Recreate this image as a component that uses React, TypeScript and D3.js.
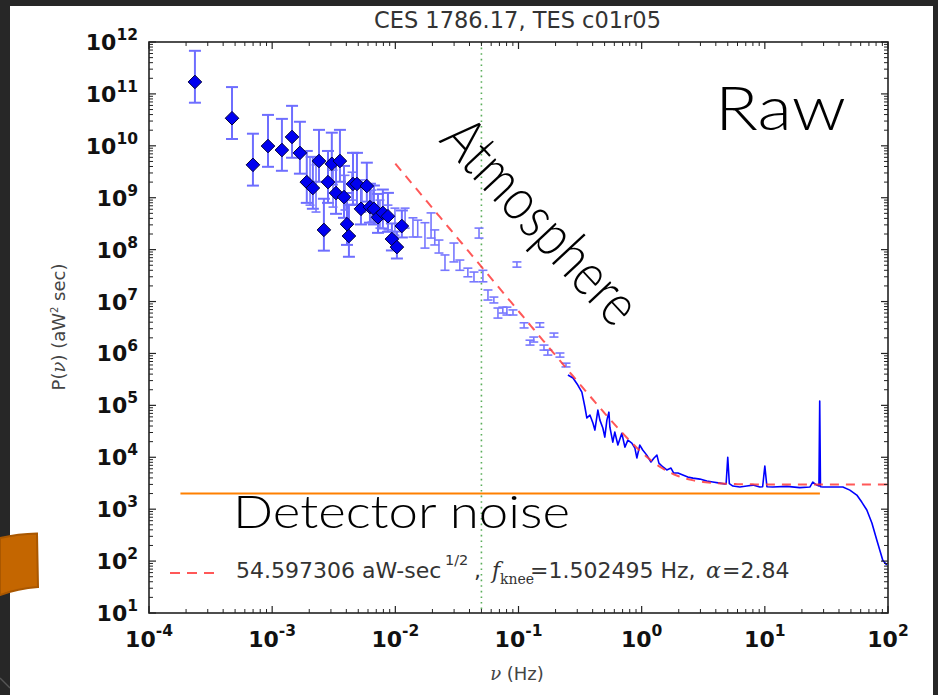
import React from 'react';
import * as d3 from 'd3';

// ---------- data ----------
// Binned low-frequency points (diamonds with error bars)
const diaFreq = [2.36e-4, 4.72e-4, 6.98e-4, 9.25e-4, 1.20e-3, 1.45e-3, 1.68e-3, 1.91e-3, 2.14e-3, 2.40e-3,
  2.63e-3, 2.84e-3, 3.05e-3, 3.30e-3, 3.55e-3, 3.83e-3, 4.05e-3, 4.20e-3, 4.53e-3, 4.88e-3,
  5.26e-3, 5.87e-3, 6.22e-3, 6.70e-3, 7.23e-3, 7.92e-3, 8.71e-3, 9.38e-3, 1.03e-2, 1.13e-2];
const diaPower = [1.7e11, 3.4e10, 4.3e9, 9.9e9, 8.3e9, 1.48e10, 7.3e9, 2.0e9, 1.54e9, 5.1e9,
  2.4e8, 2.0e9, 4.5e9, 1.23e9, 5.1e9, 1.03e9, 3.1e8, 1.83e8, 1.84e9, 1.84e9,
  6.1e8, 1.68e9, 6.6e8, 6.1e8, 4.2e8, 5.1e8, 4.4e8, 1.6e8, 1.12e8, 2.85e8];
// error bar extents in decades (up / down)
const diaErrUp = [0.6, 0.6, 0.6, 0.6, 0.6, 0.6, 0.6, 0.6, 0.6, 0.6,
  0.6, 0.6, 0.6, 0.6, 0.6, 0.6, 0.6, 0.6, 0.6, 0.6,
  0.45, 0.45, 0.45, 0.45, 0.45, 0.45, 0.45, 0.3, 0.3, 0.3];
const diaErrDown = [0.4, 0.4, 0.4, 0.4, 0.4, 0.4, 0.4, 0.4, 0.4, 0.4,
  0.4, 0.4, 0.4, 0.4, 0.4, 0.4, 0.4, 0.4, 0.4, 0.4,
  0.3, 0.3, 0.3, 0.3, 0.3, 0.3, 0.3, 0.22, 0.22, 0.22];

// Light error bars (no marker)
const barFreq = [2.03e-3, 2.27e-3, 3.12e-3, 3.90e-3, 4.45e-3, 5.36e-3, 6.46e-3, 7.50e-3, 8.71e-3, 9.93e-3,
  1.20e-2, 1.39e-2, 1.52e-2, 1.74e-2, 1.95e-2, 2.09e-2, 2.26e-2, 2.53e-2, 2.99e-2, 3.34e-2,
  3.88e-2, 4.35e-2, 4.78e-2, 5.14e-2, 5.65e-2, 6.31e-2, 6.81e-2, 7.46e-2, 8.05e-2, 9.02e-2,
  9.71e-2, 0.111, 0.124, 0.133, 0.149, 0.161, 0.173, 0.194, 0.217, 0.243];
const barHigh = [6.1e9, 4.3e9, 3.4e9, 2.7e9, 3.1e9, 2.2e9, 1.4e9, 9.0e8, 7.2e8, 6.3e8,
  6.3e8, 4.1e8, 3.7e8, 3.3e8, 5.1e8, 2.4e8, 1.53e8, 7.9e7, 1.34e8, 6.3e7,
  4.4e7, 3.7e7, 2.6e8, 4.0e7, 1.67e7, 1.22e7, 7.5e6, 7.8e6, 7.8e6, 6.9e6,
  5.8e7, 3.9e6, 1.8e6, 2.07e6, 3.9e6, 1.45e6, 1.16e6, 2.47e6, 1.02e6, 6.5e5];
const barLow = [7.2e8, 5.3e8, 6.6e8, 5.8e8, 9.0e8, 5.3e8, 3.4e8, 2.6e8, 2.4e8, 1.9e8,
  2.6e8, 1.75e8, 1.75e8, 1.07e8, 1.67e8, 1.23e8, 8.6e7, 4.0e7, 5.8e7, 4.0e7,
  3.0e7, 2.4e7, 1.67e8, 2.4e7, 1.07e7, 9.4e6, 4.8e6, 6.0e6, 5.5e6, 5.5e6,
  4.6e7, 3.1e6, 1.45e6, 1.66e6, 3.2e6, 1.16e6, 9.3e5, 2.07e6, 8.5e5, 5.5e5];

// Full-resolution spectrum (line)
const lineFreq = [0.252, 0.277, 0.303, 0.327, 0.346, 0.359, 0.380, 0.402, 0.417, 0.441,
  0.458, 0.484, 0.502, 0.522, 0.542, 0.552, 0.583, 0.605, 0.641, 0.690,
  0.731, 0.773, 0.832, 0.881, 0.914, 0.966, 1.02, 1.10, 1.19, 1.26,
  1.33, 1.38, 1.49, 1.60, 1.73, 1.82, 1.97, 2.16, 2.37, 2.61,
  2.97, 3.38, 3.78, 4.31, 4.73, 4.85, 5.0, 5.15, 5.50, 6.27,
  7.14, 8.0, 9.1, 9.6, 10.0, 10.4, 11.6, 15.1, 19.2, 23.2,
  24.5, 26.4, 27.5, 27.9, 28.3, 29.6, 35.6, 43.0, 49.0, 55.8,
  61.2, 67.3, 74.0, 81.1, 85.7, 90.7, 97.7];
const linePower = [3.84e5, 3.36e5, 2.46e5, 1.80e5, 9.3e4, 5.7e4, 6.5e4, 4.56e4, 3.34e4, 8.1e4,
  5.2e4, 3.66e4, 2.45e4, 5.2e4, 7.4e4, 3.8e4, 1.96e4, 3.06e4, 1.72e4, 2.9e4,
  1.57e4, 2.14e4, 1.88e4, 1.50e4, 9.7e3, 1.72e4, 1.38e4, 1.10e4, 8.1e3, 9.7e3,
  1.10e4, 7.7e3, 6.5e3, 5.7e3, 6.2e3, 4.97e3, 4.97e3, 4.54e3, 4.15e3, 3.97e3,
  3.80e3, 3.48e3, 3.33e3, 3.18e3, 3.05e3, 3.1e3, 1.0e4, 3.1e3, 2.79e3, 2.67e3,
  2.79e3, 2.91e3, 2.67e3, 2.7e3, 6.8e3, 2.7e3, 2.67e3, 2.75e3, 2.6e3, 2.67e3,
  3.33e3, 2.91e3, 2.8e3, 1.21e5, 2.7e3, 2.67e3, 2.67e3, 2.67e3, 2.33e3, 1.87e3,
  1.37e3, 962, 540, 254, 163, 104, 84];

// Fit model parameters (from the legend)
const FIT_SIGMA = 54.597306;
const FIT_FKNEE = 1.502495;
const FIT_ALPHA = 2.84;
const FIT_RANGE = [0.01, 100];

const MARK_FREQ = 0.05;          // dotted vertical line
const NOISE_LEVEL = 2000;        // orange detector-noise line
const NOISE_RANGE = [1.8e-4, 28];

const xTickExp = [-4, -3, -2, -1, 0, 1, 2];
const yTickExp = [1, 2, 3, 4, 5, 6, 7, 8, 9, 10, 11, 12];

const TITLE = 'CES 1786.17, TES c01r05';

export default function App() {
  const W = 938, H = 695;
  const L = 149, R = 888, T = 42, B = 613;
  const x = d3.scaleLog().domain([1e-4, 1e2]).range([L, R]);
  const y = d3.scaleLog().domain([1e1, 1e12]).range([B, T]);

  const lineGen = d3.line<[number, number]>().x(d => x(d[0])).y(d => y(d[1]));
  const spectrum: [number, number][] = lineFreq.map((f, i) => [f, linePower[i]]);

  const fitPts: [number, number][] = d3.range(Math.log10(FIT_RANGE[0]), Math.log10(FIT_RANGE[1]) + 1e-9, 0.02)
    .map(lf => {
      const f = Math.pow(10, lf);
      return [f, FIT_SIGMA * FIT_SIGMA * (1 + Math.pow(FIT_FKNEE / f, FIT_ALPHA))];
    });

  const minorX: number[] = [];
  for (let e = -4; e < 2; e++) for (let k = 2; k <= 9; k++) minorX.push(k * Math.pow(10, e));
  const minorY: number[] = [];
  for (let e = 1; e < 12; e++) for (let k = 2; k <= 9; k++) minorY.push(k * Math.pow(10, e));

  const sans = "'DejaVu Sans', 'Bitstream Vera Sans', sans-serif";
  const serif = "'DejaVu Serif', serif";
  const gothic = "Lato, 'Open Sans', sans-serif";
  const axisColor = '#222';
  const MAJ = 7, MIN = 4;

  return (
    <svg width={W} height={H} viewBox={`0 0 ${W} ${H}`}
      style={{ position: 'absolute', left: 0, top: 0, display: 'block' }}>
      {/* slide background */}
      <rect x={0} y={0} width={W} height={H} fill="#272727" />
      <line x1={0} y1={678} x2={10} y2={688} stroke="#555" strokeWidth={1.5} />
      <rect x={10} y={6} width={923} height={H - 6} fill="#ffffff" />
      {/* orange tab */}
      <path d="M0,538 Q18,534 37,533.5 L38,587 Q18,588.5 0,595 Z" fill="#c46600" stroke="#a95700" strokeWidth={2} />

      {/* title */}
      <text x={517.5} y={28} textAnchor="middle" fontFamily={sans} fontSize={22.5} fill="#333">{TITLE}</text>

      {/* dotted vertical */}
      <line x1={x(MARK_FREQ)} x2={x(MARK_FREQ)} y1={T} y2={B} stroke="#5aad5a" strokeWidth={1.6} strokeDasharray="1.6,4" />

      {/* diamond error bars */}
      <g stroke="#6e6eff" strokeWidth={2} fill="none">
        {diaFreq.map((f, i) => {
          const cx = x(f);
          const p = diaPower[i];
          const yt = y(p * Math.pow(10, diaErrUp[i]));
          const yb = y(p / Math.pow(10, diaErrDown[i]));
          return (
            <g key={'de' + i}>
              <line x1={cx} x2={cx} y1={yt} y2={yb} />
              <line x1={cx - 6} x2={cx + 6} y1={yt} y2={yt} />
              <line x1={cx - 6} x2={cx + 6} y1={yb} y2={yb} />
            </g>
          );
        })}
      </g>

      {/* light error bars */}
      <g stroke="#7878ff" strokeWidth={1.6} fill="none">
        {barFreq.map((f, i) => {
          const cx = x(f);
          const yt = y(barHigh[i]);
          const yb = y(barLow[i]);
          return (
            <g key={'be' + i}>
              <line x1={cx} x2={cx} y1={yt} y2={yb} />
              <line x1={cx - 4.5} x2={cx + 4.5} y1={yt} y2={yt} />
              <line x1={cx - 4.5} x2={cx + 4.5} y1={yb} y2={yb} />
            </g>
          );
        })}
      </g>

      {/* diamonds */}
      <g fill="#0000f0" stroke="#00003a" strokeWidth={1}>
        {diaFreq.map((f, i) => {
          const cx = x(f), cy = y(diaPower[i]);
          return <path key={'d' + i} d={`M${cx},${cy - 6.8}L${cx + 6.8},${cy}L${cx},${cy + 6.8}L${cx - 6.8},${cy}Z`} />;
        })}
      </g>

      {/* spectrum line */}
      <path d={lineGen(spectrum) || ''} fill="none" stroke="#0000ff" strokeWidth={1.6} strokeLinejoin="round" />

      {/* fit */}
      <path d={lineGen(fitPts) || ''} fill="none" stroke="#ff3b3b" strokeOpacity={0.85} strokeWidth={2} strokeDasharray="9,7" />

      {/* detector noise line */}
      <line x1={x(NOISE_RANGE[0])} x2={x(NOISE_RANGE[1])} y1={y(NOISE_LEVEL)} y2={y(NOISE_LEVEL)} stroke="#ff8000" strokeWidth={2} />

      {/* frame and ticks */}
      <g stroke={axisColor} fill="none">
        <rect x={L} y={T} width={R - L} height={B - T} strokeWidth={1.6} />
        {xTickExp.map(e => {
          const px = x(Math.pow(10, e));
          return (
            <g key={'xt' + e} strokeWidth={1.2}>
              <line x1={px} x2={px} y1={B} y2={B - MAJ} />
              <line x1={px} x2={px} y1={T} y2={T + MAJ} />
            </g>
          );
        })}
        {minorX.map((v, i) => (
          <g key={'xm' + i} strokeWidth={1}>
            <line x1={x(v)} x2={x(v)} y1={B} y2={B - MIN} />
            <line x1={x(v)} x2={x(v)} y1={T} y2={T + MIN} />
          </g>
        ))}
        {yTickExp.map(e => {
          const py = y(Math.pow(10, e));
          return (
            <g key={'yt' + e} strokeWidth={1.2}>
              <line x1={L} x2={L + MAJ} y1={py} y2={py} />
              <line x1={R} x2={R - MAJ} y1={py} y2={py} />
            </g>
          );
        })}
        {minorY.map((v, i) => (
          <g key={'ym' + i} strokeWidth={1}>
            <line x1={L} x2={L + MIN} y1={y(v)} y2={y(v)} />
            <line x1={R} x2={R - MIN} y1={y(v)} y2={y(v)} />
          </g>
        ))}
      </g>

      {/* tick labels */}
      <g fontFamily={sans} fontWeight="bold" fill="#111">
        {yTickExp.map(e => (
          <text key={'yl' + e} x={138} y={y(Math.pow(10, e)) + 8} textAnchor="end" fontSize={22}>
            10<tspan fontSize={15.5} dy={-10}>{e}</tspan>
          </text>
        ))}
        {xTickExp.map(e => (
          <text key={'xl' + e} x={x(Math.pow(10, e))} y={647} textAnchor="middle" fontSize={22}>
            10<tspan fontSize={15.5} dy={-11}>{e < 0 ? '-' + (-e) : String(e)}</tspan>
          </text>
        ))}
      </g>

      {/* axis labels */}
      <text x={517} y={680} textAnchor="middle" fontFamily={sans} fontSize={18} fill="#444">
        <tspan fontFamily={serif} fontStyle="italic">ν</tspan> (Hz)
      </text>
      <text transform="translate(65,327) rotate(-90)" textAnchor="middle" fontFamily={sans} fontSize={18} fill="#444">
        P(<tspan fontFamily={serif} fontStyle="italic">ν</tspan>) (aW<tspan fontSize={10} dy={-7}>2</tspan><tspan dy={7}> sec)</tspan>
      </text>

      {/* legend */}
      <line x1={170} x2={217} y1={573} y2={573} stroke="#ff3b3b" strokeOpacity={0.85} strokeWidth={2} strokeDasharray="10,7" />
      <g fill="#333">
        <text x={236} y={578} fontFamily={sans} fontSize={22}>54.597306 aW-sec</text>
        <text x={445} y={565} fontFamily={sans} fontSize={14.5}>1/2</text>
        <text x={474} y={578} fontFamily={sans} fontSize={22}>,</text>
        <text x={492} y={578} fontFamily={serif} fontStyle="italic" fontSize={22}>f</text>
        <text x={500} y={584} fontFamily={serif} fontSize={14}>knee</text>
        <text x={530} y={578} fontFamily={sans} fontSize={22}>=1.502495 Hz,</text>
        <text x={706} y={578} fontFamily={serif} fontStyle="italic" fontSize={22}>α</text>
        <text x={722} y={578} fontFamily={sans} fontSize={22}>=2.84</text>
      </g>

      {/* slide annotations */}
      <g fontFamily={gothic} fontWeight={300} fill="#000">
        <text x={715} y={130} fontSize={62} textLength={131} lengthAdjust="spacingAndGlyphs">Raw</text>
        <text x={233} y={528} fontSize={46} textLength={337} lengthAdjust="spacingAndGlyphs">Detector noise</text>
        <text transform="translate(540,222) rotate(47)" textAnchor="middle" dy="0.32em" fontSize={60}
          textLength={258} lengthAdjust="spacingAndGlyphs">Atmosphere</text>
      </g>
    </svg>
  );
}
